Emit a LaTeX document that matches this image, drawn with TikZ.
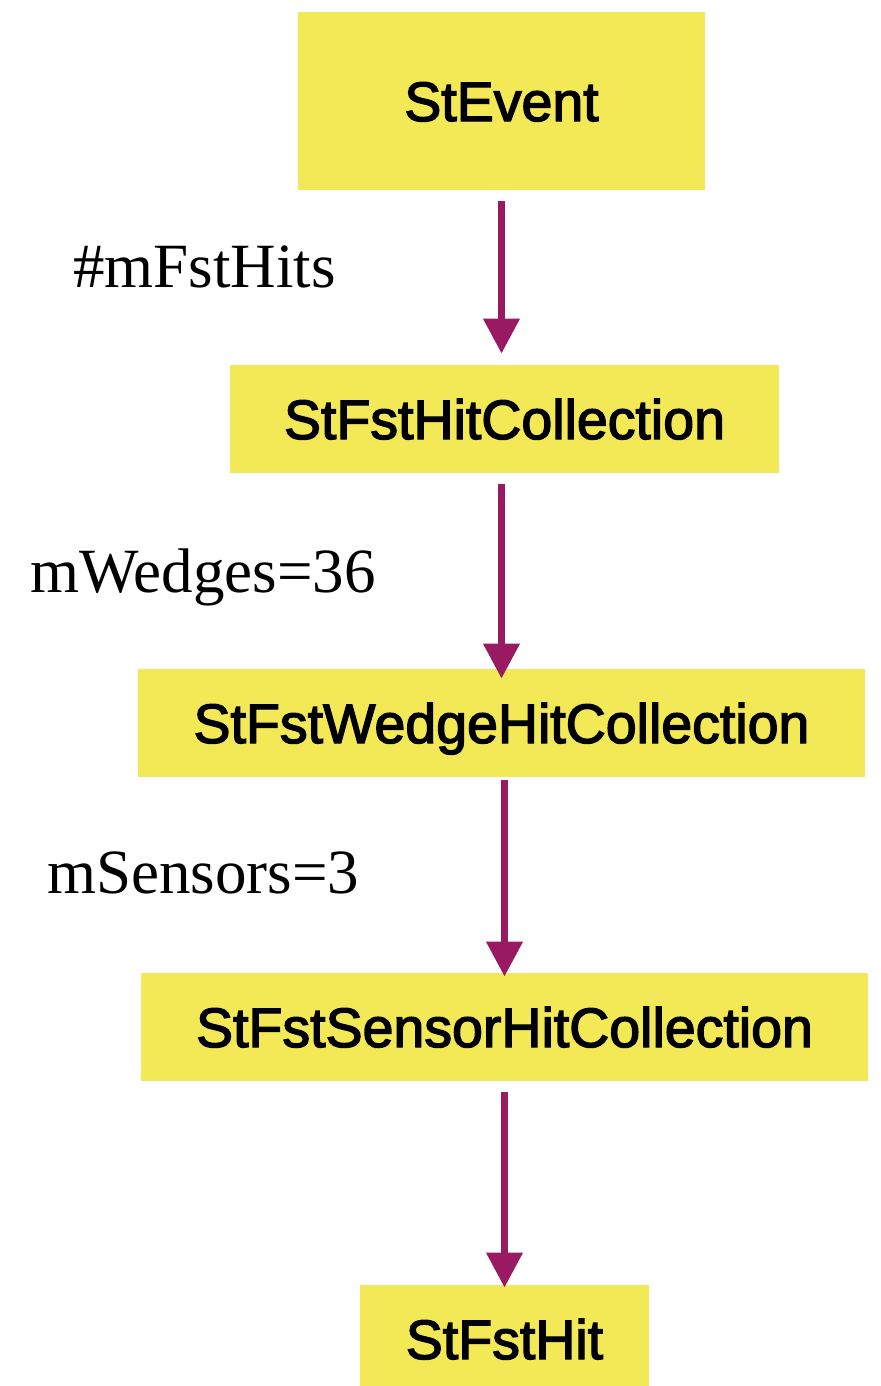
\documentclass[tikz,border=0pt]{standalone}
\usepackage{fontspec}
\setmainfont{Liberation Serif}
\newfontfamily\boxfont{Liberation Sans}[FakeBold=2.5]
\usepackage{xcolor}
\usetikzlibrary{positioning,calc,arrows.meta}
\definecolor{hityellow}{RGB}{243,233,87}
\definecolor{hitpurple}{RGB}{153,26,98}
\tikzset{
  hitbox/.style={fill=hityellow, draw=none, inner sep=0pt, align=center,
    font=\boxfont\fontsize{27.75}{32}\selectfont, text height=20pt, text depth=0pt},
  hitlabel/.style={inner sep=0pt, anchor=base west, font=\fontsize{31.5}{36}\selectfont},
  hitarrow/.style={-{Triangle[length=17.5pt, width=17.5pt]}, line width=3.6pt, draw=hitpurple},
}
\begin{document}
\begin{tikzpicture}[x=0.5pt, y=-0.5pt]
	\useasboundingbox (0,0) rectangle (880,1386);
	% Collection boxes
	\node[hitbox, minimum width=203.5pt, minimum height=89pt, yshift=-1.5pt] (event) at (501.5,98) {StEvent};
	\node[hitbox, minimum width=274.5pt, minimum height=54pt, yshift=-1pt] (hitcoll) at (504.5,417) {StFstHitCollection};
	\node[hitbox, minimum width=363.5pt, minimum height=54pt, yshift=-1pt] (wedgecoll) at (501.5,721) {StFstWedgeHitCollection};
	\node[hitbox, minimum width=363.5pt, minimum height=54pt, yshift=-1pt] (sensorcoll) at (504.5,1025) {StFstSensorHitCollection};
	\node[hitbox, minimum width=144.5pt, minimum height=54pt, yshift=-1pt] (fsthit) at (504.5,1337) {StFstHit};

	% Arrows
	\draw[hitarrow, shorten <=5.5pt, shorten >=5.5pt] (event.south) -- (event.south |- hitcoll.north);
	\draw[hitarrow, shorten <=5.5pt, shorten >=-5pt] (wedgecoll.north |- hitcoll.south) -- (wedgecoll.north);
	\draw[hitarrow, shorten <=1.5pt, shorten >=-2pt] (sensorcoll.north |- wedgecoll.south) -- (sensorcoll.north);
	\draw[hitarrow, shorten <=5.5pt, shorten >=-1.5pt] (sensorcoll.south) -- (fsthit.north);

	% Member labels
	\node[hitlabel] (lblhits) at (73,287) {\#mFstHits};
	\node[hitlabel] (lblwedges) at (30,592) {mWedges=36};
	\node[hitlabel] (lblsensors) at (47,893) {mSensors=3};
\end{tikzpicture}
\end{document}
